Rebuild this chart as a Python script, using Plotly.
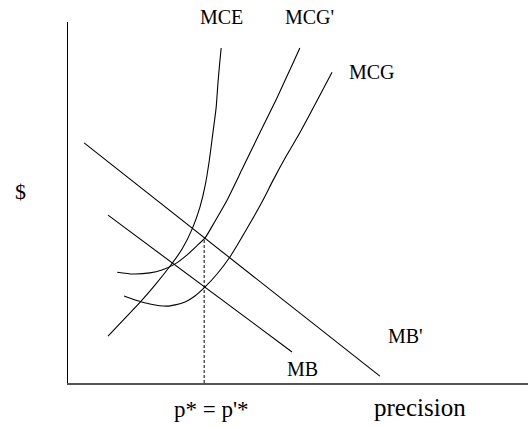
import plotly.graph_objects as go

# Curves (x = precision, y = $)
mce_x = [8.7, 12.2, 15.7, 18.9, 22.2, 24.8, 27.0, 28.7, 29.8, 30.7, 31.5, 32.2, 32.6, 33.0, 33.3]
mce_y = [13.0, 17.7, 22.4, 27.1, 32.4, 37.1, 42.7, 48.8, 54.6, 61.5, 69.3, 76.2, 83.1, 88.9, 92.8]

mcg2_x = [10.7, 14.1, 17.8, 20.4, 23.3, 25.9, 28.0, 29.8, 32.0, 34.6, 38.0, 41.7, 45.4, 48.9, 50.4]
mcg2_y = [30.7, 30.2, 30.5, 31.3, 33.0, 35.5, 38.0, 40.2, 44.9, 50.7, 59.6, 69.3, 78.9, 88.6, 92.8]

mcg_x = [12.2, 14.6, 17.8, 21.5, 25.0, 27.6, 29.8, 32.4, 35.2, 39.6, 42.4, 44.6, 47.6, 50.4, 53.9, 57.4]
mcg_y = [24.1, 23.0, 21.9, 21.3, 22.2, 24.1, 26.6, 30.2, 34.9, 44.3, 50.7, 56.2, 63.2, 69.3, 77.6, 86.1]

mb2_x = [3.5, 67.8]
mb2_y = [66.5, 1.9]

mb_x = [8.7, 48.7]
mb_y = [46.5, 8.6]

p_star = 29.6

X_RANGE = [0, 100]
Y_RANGE = [0, 100]

FONT = "Liberation Serif"

fig = go.Figure()
for xs, ys in [(mce_x, mce_y), (mcg2_x, mcg2_y), (mcg_x, mcg_y), (mb2_x, mb2_y), (mb_x, mb_y)]:
    fig.add_trace(go.Scatter(x=xs, y=ys, mode="lines",
                             line=dict(color="black", width=1.1, shape="spline", smoothing=0.6),
                             hoverinfo="skip", showlegend=False))

# dashed line from the axis up to where MB' meets MCG' at p*
y_top = mb2_y[0] + (mb2_y[1] - mb2_y[0]) * (p_star - mb2_x[0]) / (mb2_x[1] - mb2_x[0])
fig.add_trace(go.Scatter(x=[p_star, p_star], y=[0, y_top], mode="lines",
                         line=dict(color="black", width=1, dash="3px,2px"),
                         hoverinfo="skip", showlegend=False))

# text labels: (text, x, y in data units, font size)
labels = [
    ("MCE", 33.3, 101.3, 20),
    ("MCG'", 52.6, 101.3, 20),
    ("MCG", 66.1, 86.1, 20),
    ("MB'", 73.3, 12.9, 20),
    ("MB", 50.9, 3.8, 20),
    ("precision", 76.5, -6.7, 25),
    ("p* = p'*", 31.3, -7.3, 23),
    ("$", -10.4, 53.0, 22),
]
for t, x, y, s in labels:
    fig.add_annotation(
        x=(x - X_RANGE[0]) / (X_RANGE[1] - X_RANGE[0]),
        y=(y - Y_RANGE[0]) / (Y_RANGE[1] - Y_RANGE[0]),
        xref="paper", yref="paper", text=t, showarrow=False,
        xanchor="center", yanchor="middle",
        font=dict(family=FONT, size=s, color="black"))

fig.update_layout(
    width=528, height=427,
    margin=dict(l=68, r=0, t=22, b=44, pad=0),
    paper_bgcolor="white", plot_bgcolor="white",
    font=dict(family=FONT, color="black"),
    hovermode=False,
    xaxis=dict(range=X_RANGE, showgrid=False, zeroline=False, showticklabels=False,
               ticks="", showline=True, linecolor="#555555", linewidth=2, fixedrange=True),
    yaxis=dict(range=Y_RANGE, showgrid=False, zeroline=False, showticklabels=False,
               ticks="", showline=True, linecolor="black", linewidth=1, fixedrange=True),
)

fig.write_html("out.html",
               config={"displayModeBar": False, "staticPlot": True},
               post_script="document.body.style.margin='0px';document.body.style.overflow='hidden';")
